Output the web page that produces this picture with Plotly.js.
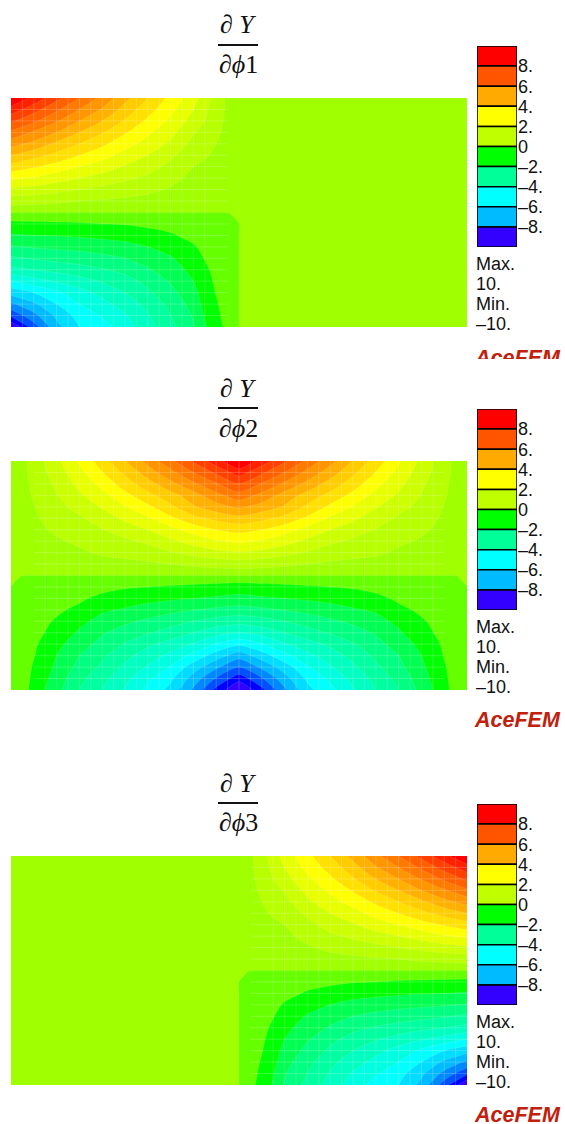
<!DOCTYPE html>
<html><head><meta charset="utf-8">
<script src="https://cdn.plot.ly/plotly-3.0.1.min.js"></script>
<style>html,body{margin:0;padding:0;background:#fff}</style></head>
<body><div id="chart" style="width:565px;height:1124px"></div>
<script>
// Field values in contour-band units (one band = 10/14).
const rowsY = [10,9,8,7,6,5,4,3,2,1,0,-0.02,-1,-2,-3,-4,-5,-6,-7,-8,-9,-10];
const cols1 = [0,2,4,6,8,10,12,14,16,17,18,19,20,20.02,40];
const field1 = [
[14,12.7,11.3,10,8.7,7.3,6,4.7,3.4,2.5,1.6,.8,.5,.5,.5],
[12.6,11.4,10.2,9,7.9,6.6,5.4,4.3,3,2.2,1.5,.8,.5,.5,.5],
[11.2,10.2,9.1,8,7,5.9,4.8,3.8,2.6,2,1.4,.75,.5,.5,.5],
[9.8,8.9,8,7,6.1,5.1,4.2,3.3,2.1,1.65,1.2,.7,.5,.5,.5],
[8.4,7.7,6.8,6,5.2,4.4,3.6,2.8,1.7,1.35,1,.65,.5,.5,.5],
[7,6.4,5.7,5,4.4,3.6,3,2.2,1.35,1.1,.85,.6,.5,.5,.5],
[5.6,5.1,4.6,4,3.5,2.9,2.4,1.7,1,.85,.7,.5,.5,.5,.5],
[4.2,3.9,3.4,3,2.6,2.2,1.8,1.25,.8,.65,.55,.5,.5,.5,.5],
[2.8,2.6,2.3,2,1.7,1.45,1.2,.9,.6,.5,.4,.4,.5,.5,.5],
[1.4,1.3,1.2,1,.9,.8,.7,.5,.4,.35,.3,.3,.5,.5,.5],
[.3,.3,.3,.3,.3,.3,.3,.3,.3,.3,.3,.3,.5,.5,.5],
[-.3,-.3,-.3,-.3,-.3,-.3,-.3,-.3,-.3,-.3,-.3,-.05,.5,.5,.5],
[-1.25,-1.2,-1.15,-1.1,-1,-.95,-.85,-.7,-.5,-.4,-.35,-.3,-.05,.5,.5],
[-2.1,-2,-1.95,-1.85,-1.75,-1.65,-1.3,-1.1,-.75,-.55,-.45,-.35,-.3,.5,.5],
[-3.1,-2.9,-2.8,-2.7,-2.5,-2.3,-2,-1.6,-1.1,-.75,-.5,-.35,-.3,.5,.5],
[-4.2,-3.9,-3.7,-3.5,-3.3,-3,-2.6,-2.1,-1.4,-.95,-.6,-.4,-.3,.5,.5],
[-5.3,-5,-4.7,-4.4,-4.1,-3.7,-3.1,-2.5,-1.7,-1.2,-.7,-.4,-.3,.5,.5],
[-7,-6.4,-5.9,-5.4,-4.9,-4.4,-3.7,-2.9,-2,-1.35,-.85,-.45,-.3,.5,.5],
[-8.6,-8,-7.2,-6.4,-5.7,-5,-4.2,-3.3,-2.3,-1.55,-.95,-.5,-.3,.5,.5],
[-10.2,-9.2,-8,-7,-6.3,-5.6,-4.7,-3.7,-2.6,-1.7,-1.1,-.55,-.3,.5,.5],
[-11.8,-10.3,-8.8,-7.6,-6.9,-6.1,-5.1,-4,-2.9,-1.9,-1.25,-.6,-.3,.5,.5],
[-14,-11.5,-9.3,-8,-7.4,-6.5,-5.4,-4.3,-3.1,-2.1,-1.4,-.7,-.3,.5,.5]
];
const cols2 = [0,1,2,4,6,8,10,12,14,16,18,20,22,24,26,28,30,32,34,36,38,39,40];
const field2 = [
[.5,.8,1.35,2.75,4.15,5.55,6.95,8.35,9.75,11.15,12.6,14,12.6,11.15,9.75,8.35,6.95,5.55,4.15,2.75,1.35,.8,.5],
[.5,.75,1.3,2.5,3.7,4.95,6.2,7.5,8.7,10,11.2,12.5,11.2,10,8.7,7.5,6.2,4.95,3.7,2.5,1.3,.75,.5],
[.5,.7,1.2,2.2,3.3,4.3,5.5,6.6,7.7,8.8,9.9,11,9.9,8.8,7.7,6.6,5.5,4.3,3.3,2.2,1.2,.7,.5],
[.5,.65,1.1,1.95,2.85,3.7,4.7,5.7,6.6,7.6,8.7,9.6,8.7,7.6,6.6,5.7,4.7,3.7,2.85,1.95,1.1,.65,.5],
[.5,.6,.95,1.7,2.35,3.1,3.95,4.8,5.8,6.9,7.6,8.2,7.6,6.9,5.8,4.8,3.95,3.1,2.35,1.7,.95,.6,.5],
[.5,.55,.85,1.45,1.85,2.5,3.2,3.85,4.8,5.7,6.3,6.7,6.3,5.7,4.8,3.85,3.2,2.5,1.85,1.45,.85,.55,.5],
[.5,.5,.75,1.15,1.5,1.95,2.5,3,3.7,4.4,5,5.3,5,4.4,3.7,3,2.5,1.95,1.5,1.15,.75,.5,.5],
[.5,.45,.65,.9,1.15,1.55,1.8,2.2,2.8,3.4,3.9,4.2,3.9,3.4,2.8,2.2,1.8,1.55,1.15,.9,.65,.45,.5],
[.5,.4,.55,.7,.85,1.15,1.3,1.5,1.9,2.35,2.7,2.9,2.7,2.35,1.9,1.5,1.3,1.15,.85,.7,.55,.4,.5],
[.5,.35,.45,.5,.55,.65,.75,.85,1,1.2,1.35,1.5,1.35,1.2,1,.85,.75,.65,.55,.5,.45,.35,.5],
[.5,.3,.3,.3,.3,.3,.3,.3,.3,.3,.3,.3,.3,.3,.3,.3,.3,.3,.3,.3,.3,.3,.5],
[.5,-.05,-.3,-.3,-.3,-.3,-.3,-.3,-.3,-.3,-.3,-.3,-.3,-.3,-.3,-.3,-.3,-.3,-.3,-.3,-.3,-.05,.5],
[-.05,-.3,-.4,-.55,-.6,-.7,-.9,-1,-1.1,-1.2,-1.3,-1.4,-1.3,-1.2,-1.1,-1,-.9,-.7,-.6,-.55,-.4,-.3,-.05],
[-.3,-.3,-.5,-.7,-.85,-1.25,-1.5,-1.7,-1.85,-2,-2.15,-2.3,-2.15,-2,-1.85,-1.7,-1.5,-1.25,-.85,-.7,-.5,-.3,-.3],
[-.3,-.3,-.55,-.85,-1.2,-1.85,-2.1,-2.4,-2.7,-2.95,-3.2,-3.4,-3.2,-2.95,-2.7,-2.4,-2.1,-1.85,-1.2,-.85,-.55,-.3,-.3],
[-.3,-.35,-.65,-1.1,-1.75,-2.35,-2.8,-3.2,-3.6,-4,-4.4,-4.6,-4.4,-4,-3.6,-3.2,-2.8,-2.35,-1.75,-1.1,-.65,-.35,-.3],
[-.3,-.4,-.7,-1.35,-2.15,-2.9,-3.4,-3.9,-4.4,-5,-5.6,-6,-5.6,-5,-4.4,-3.9,-3.4,-2.9,-2.15,-1.35,-.7,-.4,-.3],
[-.3,-.5,-.85,-1.7,-2.6,-3.3,-4.1,-4.8,-5.4,-6.1,-7.1,-7.8,-7.1,-6.1,-5.4,-4.8,-4.1,-3.3,-2.6,-1.7,-.85,-.5,-.3],
[-.3,-.5,-.95,-2,-3,-3.8,-4.7,-5.5,-6.3,-7.3,-8.5,-9.6,-8.5,-7.3,-6.3,-5.5,-4.7,-3.8,-3,-2,-.95,-.5,-.3],
[-.3,-.55,-1.1,-2.2,-3.3,-4.2,-5.2,-6.1,-7.1,-8.5,-9.8,-11,-9.8,-8.5,-7.1,-6.1,-5.2,-4.2,-3.3,-2.2,-1.1,-.55,-.3],
[-.3,-.6,-1.2,-2.45,-3.7,-4.7,-5.7,-6.8,-7.8,-9.4,-11.1,-12.6,-11.1,-9.4,-7.8,-6.8,-5.7,-4.7,-3.7,-2.45,-1.2,-.6,-.3],
[-.3,-.6,-1.35,-2.7,-4,-5,-6.1,-7.3,-8.3,-10.2,-12.3,-14,-12.3,-10.2,-8.3,-7.3,-6.1,-5,-4,-2.7,-1.35,-.6,-.3]
];
const cols3 = [0,19.98,20,21,22,23,24,26,28,30,32,34,36,38,40];
const field3 = [
[.5,.5,.5,.8,1.6,2.5,3.4,4.7,6,7.3,8.7,10,11.3,12.7,14],
[.5,.5,.5,.8,1.5,2.2,3,4.3,5.4,6.6,7.9,9,10.2,11.4,12.6],
[.5,.5,.5,.75,1.4,2,2.6,3.8,4.8,5.9,7,8,9.1,10.2,11.2],
[.5,.5,.5,.7,1.2,1.65,2.1,3.3,4.2,5.1,6.1,7,8,8.9,9.8],
[.5,.5,.5,.65,1,1.35,1.7,2.8,3.6,4.4,5.2,6,6.8,7.7,8.4],
[.5,.5,.5,.6,.85,1.1,1.35,2.2,3,3.6,4.4,5,5.7,6.4,7],
[.5,.5,.5,.5,.7,.85,1,1.7,2.4,2.9,3.5,4,4.6,5.1,5.6],
[.5,.5,.5,.5,.55,.65,.8,1.25,1.8,2.2,2.6,3,3.4,3.9,4.2],
[.5,.5,.5,.4,.4,.5,.6,.9,1.2,1.45,1.7,2,2.3,2.6,2.8],
[.5,.5,.5,.3,.3,.35,.4,.5,.7,.8,.9,1,1.2,1.3,1.4],
[.5,.5,.5,.3,.3,.3,.3,.3,.3,.3,.3,.3,.3,.3,.3],
[.5,.5,.5,-.05,-.3,-.3,-.3,-.3,-.3,-.3,-.3,-.3,-.3,-.3,-.3],
[.5,.5,-.05,-.3,-.35,-.4,-.5,-.7,-.85,-.95,-1,-1.1,-1.15,-1.2,-1.25],
[.5,.5,-.3,-.35,-.45,-.55,-.75,-1.1,-1.3,-1.65,-1.75,-1.85,-1.95,-2,-2.1],
[.5,.5,-.3,-.35,-.5,-.75,-1.1,-1.6,-2,-2.3,-2.5,-2.7,-2.8,-2.9,-3.1],
[.5,.5,-.3,-.4,-.6,-.95,-1.4,-2.1,-2.6,-3,-3.3,-3.5,-3.7,-3.9,-4.2],
[.5,.5,-.3,-.4,-.7,-1.2,-1.7,-2.5,-3.1,-3.7,-4.1,-4.4,-4.7,-5,-5.3],
[.5,.5,-.3,-.45,-.85,-1.35,-2,-2.9,-3.7,-4.4,-4.9,-5.4,-5.9,-6.4,-7],
[.5,.5,-.3,-.5,-.95,-1.55,-2.3,-3.3,-4.2,-5,-5.7,-6.4,-7.2,-8,-8.6],
[.5,.5,-.3,-.55,-1.1,-1.7,-2.6,-3.7,-4.7,-5.6,-6.3,-7,-8,-9.2,-10.2],
[.5,.5,-.3,-.6,-1.25,-1.9,-2.9,-4,-5.1,-6.1,-6.9,-7.6,-8.8,-10.3,-11.8],
[.5,.5,-.3,-.7,-1.4,-2.1,-3.1,-4.3,-5.4,-6.5,-7.4,-8,-9.3,-11.5,-14]
];
// 28 contour bands, lowest first
const bandColors = ['#3300ff','#0000ff','#0050ff','#0088ff','#00bbff','#00ddff','#00ffff','#00ffe0','#00ffc0','#00ffa0','#00ff80','#00ff50','#00ff00','#66ff00',
 '#a0ff00','#b8ff00','#ccff00','#e8ff00','#ffff00','#ffe000','#ffcc00','#ffb000','#ff9500','#ff7a00','#ff6000','#ff4000','#ff2000','#ff0000'];
const legendBases = [8,6,4,2,0,-2,-4,-6,-8,-10];
const legendColors = ['#ff0000','#ff5500','#ffaa00','#ffff00','#c0ff00','#00ff00','#00ff99','#00ffff','#00bbff','#3300ff'];
const legendTicks = [8,6,4,2,0,-2,-4,-6,-8];
const legendLabels = ['8.','6.','4.','2.','0','\u20132.','\u20134.','\u20136.','\u20138.'];
const plotTops = [98,461,856];
const denominators = ['1','2','3'];
const infoTexts = ['Max.','10.','Min.','\u201310.'];

const W = 565, H = 1124, BAND = 10/14;
const px = v => v / W, py = v => 1 - v / H;
const scale = [];
bandColors.forEach((c, i) => { scale.push([i / 28, c]); scale.push([(i + 1) / 28, c]); });
const fields = [[cols1, field1],[cols2, field2],[cols3, field3]];
const seamSpans = [[0,19,1,17],[2,38,3,37],[21,40,23,39]];
const traces = [], layout = {
  width: W, height: H, margin: {l:0,r:0,t:0,b:0}, paper_bgcolor:'#fff', plot_bgcolor:'rgba(0,0,0,0)',
  showlegend:false, barmode:'overlay', annotations:[], shapes:[]
};
const FONT = 'Liberation Sans, Arial, sans-serif', SERIF = 'Liberation Serif, Times New Roman, serif';
fields.forEach(([xs, rows], k) => {
  const top = plotTops[k], a = k * 2 + 1, xn = 'x' + (a === 1 ? '' : a), yn = 'y' + (a === 1 ? '' : a);
  const xk = 'xaxis' + (a === 1 ? '' : a), yk = 'yaxis' + (a === 1 ? '' : a);
  layout[xk] = {domain:[px(11), px(467)], range:[0,40], visible:false, anchor:yn, fixedrange:true};
  layout[yk] = {domain:[py(top+229), py(top)], range:[-10,10], visible:false, anchor:xn, fixedrange:true};
  traces.push({type:'contour', x:xs, y:rowsY, z:rows.map(r => r.map(v => v * BAND)), xaxis:xn, yaxis:yn,
    autocontour:false, contours:{start:-10,end:10,size:BAND,coloring:'fill',showlines:true},
    line:{color:'rgba(255,255,255,0.15)',width:0.8,smoothing:0.7}, colorscale:scale, zmin:-10, zmax:10,
    showscale:false, hoverinfo:'skip'});
  // element seams of the mesh
  const [x0,x1,g0,g1] = seamSpans[k], sx = [], sy = [];
  for (let g = g0; g <= g1; g++) { sx.push(g,g,null); sy.push(-10,10,null); }
  for (let r = -9; r <= 9; r++) { if (r===0) continue; sx.push(x0,x1,null); sy.push(r,r,null); }
  traces.push({type:'scatter', mode:'lines', x:sx, y:sy, xaxis:xn, yaxis:yn, hoverinfo:'skip',
    line:{color:'rgba(255,255,255,0.2)',width:1}});
  // legend bar
  const b = a + 1, xb = 'x' + b, yb = 'y' + b;
  layout['xaxis'+b] = {domain:[px(477), px(517)], range:[-0.5,0.5], visible:false, anchor:yb, fixedrange:true};
  layout['yaxis'+b] = {domain:[py(top-52+201), py(top-52)], range:[-10,10], anchor:xb, side:'right', fixedrange:true,
    tickmode:'array', tickvals:legendTicks, ticktext:legendLabels, ticks:'', showline:false, showgrid:false, zeroline:false,
    tickfont:{family:FONT,size:18,color:'#111'}};
  traces.push({type:'bar', x:legendBases.map(() => 0), y:legendBases.map(() => 2), base:legendBases, width:1, xaxis:xb, yaxis:yb,
    marker:{color:legendColors, line:{color:'#000',width:1.5}}, hoverinfo:'skip'});
  // title
  const tc = px(238);
  layout.annotations.push({xref:'paper',yref:'paper',x:tc,y:py(top-73),yanchor:'middle',xanchor:'center',showarrow:false,
    text:'\u2202 <i>Y</i>',font:{family:SERIF,size:26,color:'#111'}});
  layout.annotations.push({xref:'paper',yref:'paper',x:tc,y:py(top-33),yanchor:'middle',xanchor:'center',showarrow:false,
    text:'\u2202<i>\u03d5</i>'+denominators[k],font:{family:SERIF,size:26,color:'#111'}});
  layout.shapes.push({type:'line',xref:'paper',yref:'paper',x0:px(218),x1:px(258),y0:py(top-53),y1:py(top-53),line:{color:'#111',width:2}});
  // info text
  infoTexts.forEach((t,i) => layout.annotations.push({xref:'paper',yref:'paper',x:px(474),y:py(top+166+i*20),xanchor:'left',yanchor:'middle',
    showarrow:false,text:t,font:{family:FONT,size:18,color:'#111'}}));
  // brand
  const brand = {xref:'paper',yref:'paper',x:px(562),xanchor:'right',showarrow:false,text:'<b><i>AceFEM</i></b>',
    font:{family:FONT,size:21.5,color:'#c0200c'},borderpad:0};
  if (k === 0) { Object.assign(brand,{y:py(top+247),yanchor:'top',height:13,valign:'top'}); }
  else { Object.assign(brand,{y:py(top+247),yanchor:'top',height:22,valign:'middle'}); }
  layout.annotations.push(brand);
});
Plotly.newPlot('chart', traces, layout, {displayModeBar:false, staticPlot:true});
</script></body></html>
